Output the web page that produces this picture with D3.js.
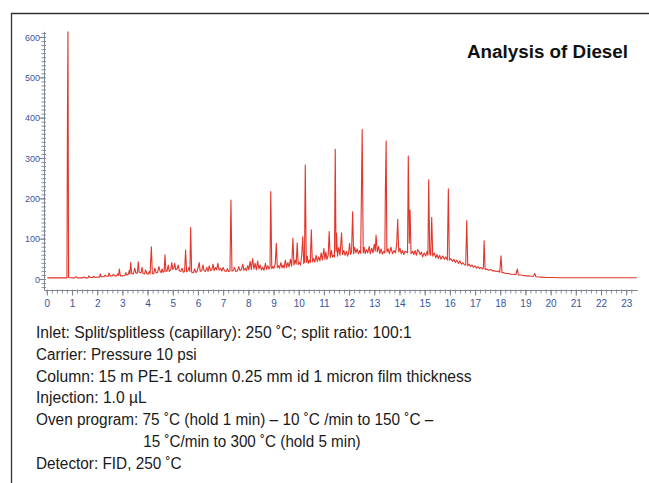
<!DOCTYPE html>
<html><head><meta charset="utf-8">
<script src="https://cdn.jsdelivr.net/npm/d3@7"></script>
<style>
html,body{margin:0;padding:0;background:#fff;}
svg{display:block;}
</style></head>
<body>
<script>
// ---- DATA (retention time in min, detector response) ----
const solventPeak = [[0,4],[0.78,4],[0.80,400],[0.82,614],[0.845,5],[1.0,4]];
const earlyTrace = [[1.1,4],[1.15,7],[1.2,4],[1.4,4],[1.45,6],[1.5,4],[1.62,4],[1.65,9],[1.7,5],[1.8,5],[1.85,8],[1.9,5],[2.0,6],[2.08,6],[2.1,14],[2.14,7],[2.25,7],[2.3,11],[2.35,8],[2.42,8],[2.45,16],[2.5,9],[2.58,9],[2.62,13],[2.68,9],[2.75,9],[2.8,14],[2.83,10],[2.86,26],[2.9,9],[3.0,9],[3.08,10],[3.12,17],[3.16,11],[3.22,13],[3.25,22],[3.28,14],[3.31,42],[3.35,15],[3.42,14],[3.47,28],[3.52,15],[3.58,17],[3.61,44],[3.65,18],[3.72,16],[3.76,30],[3.8,15],[3.86,14],[3.9,24],[3.95,15],[4.0,13],[4.05,20]];
const middleTrace = [[4.08,14],[4.13,81],[4.17,15],[4.22,14],[4.27,28],[4.32,16],[4.38,18],[4.43,32],[4.48,20],[4.52,17],[4.56,26],[4.6,18],[4.64,20],[4.67,61],[4.71,20],[4.76,22],[4.8,36],[4.84,20],[4.9,24],[4.94,42],[4.98,25],[5.02,28],[5.06,40],[5.1,24],[5.15,26],[5.2,36],[5.24,22],[5.3,20],[5.35,28],[5.4,18],[5.45,20],[5.49,73],[5.53,19],[5.58,22],[5.62,30],[5.66,20],[5.69,129],[5.73,18],[5.8,17],[5.85,26],[5.9,17],[5.96,22],[6.03,42],[6.07,20],[6.13,22],[6.18,36],[6.22,22],[6.28,20],[6.33,30],[6.38,20],[6.43,34],[6.48,22],[6.53,24],[6.58,38],[6.62,22],[6.68,30],[6.72,24],[6.77,40],[6.82,23],[6.88,28],[6.93,21],[6.98,30],[7.03,22],[7.1,20],[7.15,27],[7.2,20],[7.25,21],[7.29,197],[7.33,21],[7.38,22],[7.43,30],[7.48,20],[7.55,22],[7.6,32],[7.65,22],[7.7,24],[7.76,38],[7.8,23],[7.86,28],[7.9,22],[7.96,34],
[8.0,24],[8.05,45],[8.1,25],[8.15,52],[8.2,26],[8.25,40],[8.3,24],[8.35,46],[8.4,26],[8.45,36],[8.5,24],[8.55,30],[8.6,23],[8.66,40],[8.7,25],[8.75,34],[8.8,26],[8.84,30],[8.87,218],[8.91,27],[8.96,32],[9.0,28],[9.05,40],[9.09,90],[9.13,30],[9.18,34],[9.22,28],[9.27,42],[9.32,29],[9.36,36],[9.4,28],[9.45,48],[9.5,30],[9.55,42],[9.6,31],[9.65,50],[9.7,33],[9.75,102],[9.79,36],[9.84,48],[9.88,38],[9.92,91],[9.96,37],[10.0,42],[10.05,36],[10.1,60],[10.14,106],[10.18,40],[10.21,44],[10.24,284],[10.28,42],[10.32,58],[10.36,40],[10.4,48],[10.44,42],[10.48,123],[10.52,44],[10.57,52],[10.62,43],[10.67,60],[10.72,45],[10.77,56],[10.82,46],[10.87,66],[10.92,48],[10.98,77],[11.02,50],[11.06,68],[11.1,50],[11.15,60],[11.19,119],[11.23,54],[11.28,72],[11.32,55],[11.36,60],[11.4,56],[11.43,323],[11.46,70],[11.48,115],[11.52,58],[11.57,80],[11.62,60],[11.68,116],[11.72,62],[11.77,72],[11.82,60],[11.88,70],[11.92,58],[11.96,66],[12.0,90],[12.04,62],[12.08,70],[12.12,168],[12.16,64],[12.2,80],[12.25,66],[12.3,76],[12.35,64],[12.4,72],[12.44,65],[12.5,372],[12.54,66],[12.58,80],[12.62,64],[12.67,74],[12.72,66],[12.78,82],[12.82,64],[12.88,78],[12.93,66],[12.98,88],[13.02,70],[13.05,110],[13.1,68],[13.15,82],[13.2,64],[13.25,76],[13.3,63],[13.36,70],[13.4,66],[13.42,218],[13.45,343],[13.48,68],[13.53,76],[13.58,64],[13.64,80],[13.7,64],[13.76,72],[13.82,66],[13.87,88],[13.91,149],[13.95,68],[14.0,78],[14.05,64],[14.1,72],[14.15,62],[14.2,70],[14.26,68],[14.3,66],[14.33,306],[14.37,90],[14.40,172],[14.44,64],[14.5,70],[14.55,62],[14.6,72],[14.65,60],[14.7,74],[14.75,70],[14.8,62],[14.85,68],[14.9,56],[14.96,66],[15.02,58],[15.08,70],[15.11,60],[15.14,247],[15.18,64],[15.22,60],[15.26,154],[15.3,58],[15.36,66],[15.42,54],[15.47,62],[15.52,52],[15.58,60],[15.63,50],[15.7,58],[15.76,50],[15.82,56],[15.88,48],[15.92,225],[15.96,48]];
const lateTrace = [[16.02,52],[16.08,45],[16.14,50],[16.2,42],[16.26,48],[16.32,40],[16.38,46],[16.44,38],[16.5,42],[16.56,36],[16.61,36],[16.65,146],[16.69,34],[16.75,38],[16.8,32],[16.86,36],[16.92,30],[16.98,34],[17.04,28],[17.1,32],[17.16,27],[17.22,30],[17.28,26],[17.31,28],[17.34,96],[17.38,25],[17.45,26],[17.52,23],[17.6,25],[17.68,21],[17.75,22],[17.82,20],[17.9,21],[17.96,18],[18.01,59],[18.05,17],[18.12,17],[18.2,15],[18.3,15],[18.4,13],[18.5,13],[18.6,12],[18.66,26],[18.7,11],[18.8,11],[18.9,10],[19.0,9],[19.1,9],[19.2,8],[19.3,8],[19.35,15],[19.4,7],[19.6,6],[19.8,5],[20.0,5],[20.4,4.5],[21,4.5],[22,4.5],[23.4,4.5]];

const xTicks = d3.range(0, 24, 1);          // 0 … 23 min
const yTicks = [0, 100, 200, 300, 400, 500, 600];
const title = "Analysis of Diesel";
const conditions = [
  "Inlet: Split/splitless (capillary): 250 \u02DAC; split ratio: 100:1",
  "Carrier: Pressure 10 psi",
  "Column: 15 m PE-1 column 0.25 mm id 1 micron film thickness",
  "Injection: 1.0 \u00B5L",
  "Oven program: 75 \u02DAC (hold 1 min) \u2013 10 \u02DAC /min to 150 \u02DAC \u2013",
  "15 \u02DAC/min to 300 \u02DAC (hold 5 min)",
  "Detector: FID, 250 \u02DAC"
];

// ---- LAYOUT ----
const W = 649, H = 483;
const svg = d3.select("body").append("svg").attr("width", W).attr("height", H);

const x = d3.scaleLinear().domain([0, 23]).range([47.3, 626.7]);
const y = d3.scaleLinear().domain([0, 600]).range([279.5, 37.5]);
const xMax = 23.4, yMin = -26, yMax = 614;
const axisCol = "#7d8494", labCol = "#3a539e";

// frame
svg.append("line").attr("x1", 11).attr("x2", W).attr("y1", 13.5).attr("y2", 13.5)
  .attr("stroke", "#333").attr("stroke-width", 1.3);
svg.append("line").attr("x1", 11.5).attr("x2", 11.5).attr("y1", 13).attr("y2", H)
  .attr("stroke", "#333").attr("stroke-width", 1.3);

// y axis
const axX = 44.5, axY = 290.5;
const yAxis = svg.append("g");
yAxis.append("line").attr("x1", axX).attr("x2", axX).attr("y1", y(yMax)).attr("y2", axY)
  .attr("stroke", axisCol).attr("stroke-width", 1);
yAxis.selectAll("line.minor").data(d3.range(-20, 611, 10)).join("line").attr("class", "minor")
  .attr("x1", axX - 3).attr("x2", axX + 1.5).attr("y1", d => y(d)).attr("y2", d => y(d))
  .attr("stroke", axisCol).attr("stroke-width", 0.9);
yAxis.selectAll("line.major").data(yTicks).join("line").attr("class", "major")
  .attr("x1", axX - 5).attr("x2", axX).attr("y1", d => y(d)).attr("y2", d => y(d))
  .attr("stroke", axisCol).attr("stroke-width", 1.1);
yAxis.selectAll("text").data(yTicks).join("text")
  .attr("x", axX - 4.5).attr("y", d => y(d) + 3.2)
  .attr("text-anchor", "end").attr("font-family", "Liberation Sans, Arial, sans-serif")
  .attr("font-size", 9).attr("fill", labCol).text(d => d);

// x axis
const xAxis = svg.append("g");
xAxis.append("line").attr("x1", axX).attr("x2", x(xMax) + 1).attr("y1", axY).attr("y2", axY)
  .attr("stroke", axisCol).attr("stroke-width", 1);
xAxis.selectAll("line.minor").data(d3.range(0, 117).map(i => i * 0.2)).join("line").attr("class", "minor")
  .attr("x1", d => x(d)).attr("x2", d => x(d)).attr("y1", axY - 1).attr("y2", axY + 3)
  .attr("stroke", axisCol).attr("stroke-width", 0.9);
xAxis.selectAll("line.major").data(xTicks).join("line").attr("class", "major")
  .attr("x1", d => x(d)).attr("x2", d => x(d)).attr("y1", axY).attr("y2", axY + 5)
  .attr("stroke", axisCol).attr("stroke-width", 1.1);
xAxis.selectAll("text").data(xTicks).join("text")
  .attr("x", d => x(d)).attr("y", 307)
  .attr("text-anchor", "middle").attr("font-family", "Liberation Sans, Arial, sans-serif")
  .attr("font-size", 10).attr("fill", labCol).text(d => d);

// trace
const trace = [].concat(solventPeak, earlyTrace, middleTrace, lateTrace);
const line = d3.line().x(d => x(d[0])).y(d => y(d[1]));
svg.append("path").datum(trace).attr("d", line)
  .attr("fill", "none").attr("stroke", "#e2352b").attr("stroke-width", 1.1)
  .attr("stroke-linejoin", "round");

// title
svg.append("text").attr("x", 467).attr("y", 57.5)
  .attr("font-family", "Liberation Sans, Arial, Helvetica, sans-serif")
  .attr("font-weight", "bold").attr("font-size", 18).attr("fill", "#111")
  .attr("textLength", 161).attr("lengthAdjust", "spacingAndGlyphs")
  .text(title);

// conditions text
const lineX = [36, 36, 36, 36, 36, 143.3, 36];
const lineW = [375.7, 160.7, 435.7, 110.7, 397.3, 217.4, 145.7];
const base0 = 337.7, lh = 21.9;
svg.append("g").selectAll("text").data(conditions).join("text")
  .attr("x", (d, i) => lineX[i]).attr("y", (d, i) => base0 + i * lh)
  .attr("font-family", "Liberation Sans, Arial, Helvetica, sans-serif")
  .attr("font-size", 17.3).attr("fill", "#1a1a1a")
  .attr("textLength", (d, i) => lineW[i]).attr("lengthAdjust", "spacingAndGlyphs")
  .text(d => d);
</script>
</body></html>
